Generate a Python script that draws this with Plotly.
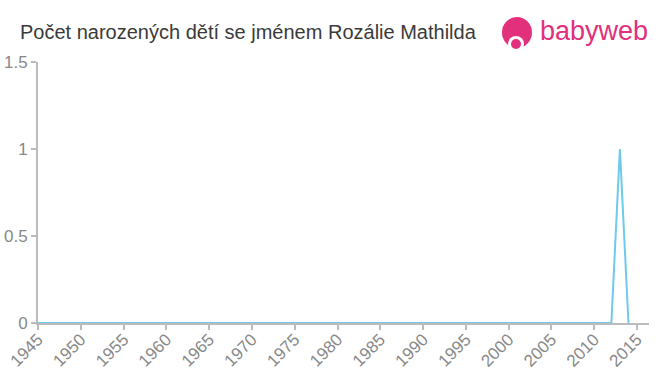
import plotly.graph_objects as go

years = list(range(1945, 2015))
counts = [0, 0, 0, 0, 0, 0, 0, 0, 0, 0,
          0, 0, 0, 0, 0, 0, 0, 0, 0, 0,
          0, 0, 0, 0, 0, 0, 0, 0, 0, 0,
          0, 0, 0, 0, 0, 0, 0, 0, 0, 0,
          0, 0, 0, 0, 0, 0, 0, 0, 0, 0,
          0, 0, 0, 0, 0, 0, 0, 0, 0, 0,
          0, 0, 0, 0, 0, 0, 0, 0, 1, 0]
x_ticks = list(range(1945, 2016, 5))
y_ticks = [0, 0.5, 1, 1.5]
y_tick_labels = ["0", "0.5", "1", "1.5"]
title_text = "Počet narozených dětí se jménem Rozálie Mathilda"

pink = "#e2307c"
L, R, T, B = 38, 11, 62, 52
PW, PH = 660 - L - R, 375 - T - B

def px(x):
    return (x - L) / PW

def py(y):
    return (375 - B - y) / PH

fig = go.Figure()
fig.add_trace(go.Scatter(x=years, y=counts, mode="lines",
                         line=dict(color="#6dcaeb", width=2), hoverinfo="x+y"))

fig.update_layout(
    width=660, height=375,
    margin=dict(l=L, r=R, t=T, b=B, autoexpand=False),
    paper_bgcolor="white", plot_bgcolor="white",
    showlegend=False,
    font=dict(family="Liberation Sans, Arial, sans-serif", color="#888"),
    xaxis=dict(range=[1945, 2016.4], tickvals=x_ticks, ticktext=[str(v) for v in x_ticks],
               tickangle=-45, showgrid=False, zeroline=False, automargin=False,
               showline=True, linecolor="#bbb", linewidth=2,
               ticks="outside", ticklen=5, tickcolor="#bbb", tickwidth=2,
               ticklabelstandoff=-7,
               tickfont=dict(size=17, color="#888")),
    yaxis=dict(range=[0, 1.5], tickvals=y_ticks, ticktext=y_tick_labels,
               showgrid=False, zeroline=False, automargin=False,
               showline=True, linecolor="#bbb", linewidth=2,
               ticks="outside", ticklen=5, tickcolor="#bbb", tickwidth=2,
               tickfont=dict(size=17, color="#888")),
)

fig.add_annotation(text=title_text, xref="paper", yref="paper",
                   x=px(18), y=py(32), xanchor="left", yanchor="middle",
                   showarrow=False, font=dict(size=20, color="#3a3a3a"))

# babyweb logo
fig.add_annotation(text="babyweb", xref="paper", yref="paper",
                   x=px(538), y=py(31), xanchor="left", yanchor="middle",
                   showarrow=False, font=dict(size=27, color=pink, family="Liberation Sans, Arial, sans-serif"))
fig.add_shape(type="circle", xref="paper", yref="paper",
              x0=px(502), x1=px(532), y0=py(48), y1=py(17),
              fillcolor=pink, line=dict(width=0), layer="above")
fig.add_shape(type="circle", xref="paper", yref="paper",
              x0=px(508), x1=px(524), y0=py(52), y1=py(36),
              fillcolor="white", line=dict(width=0), layer="above")
fig.add_shape(type="circle", xref="paper", yref="paper",
              x0=px(511), x1=px(521), y0=py(49), y1=py(39),
              fillcolor=pink, line=dict(width=0), layer="above")

fig.write_html("out.html")
